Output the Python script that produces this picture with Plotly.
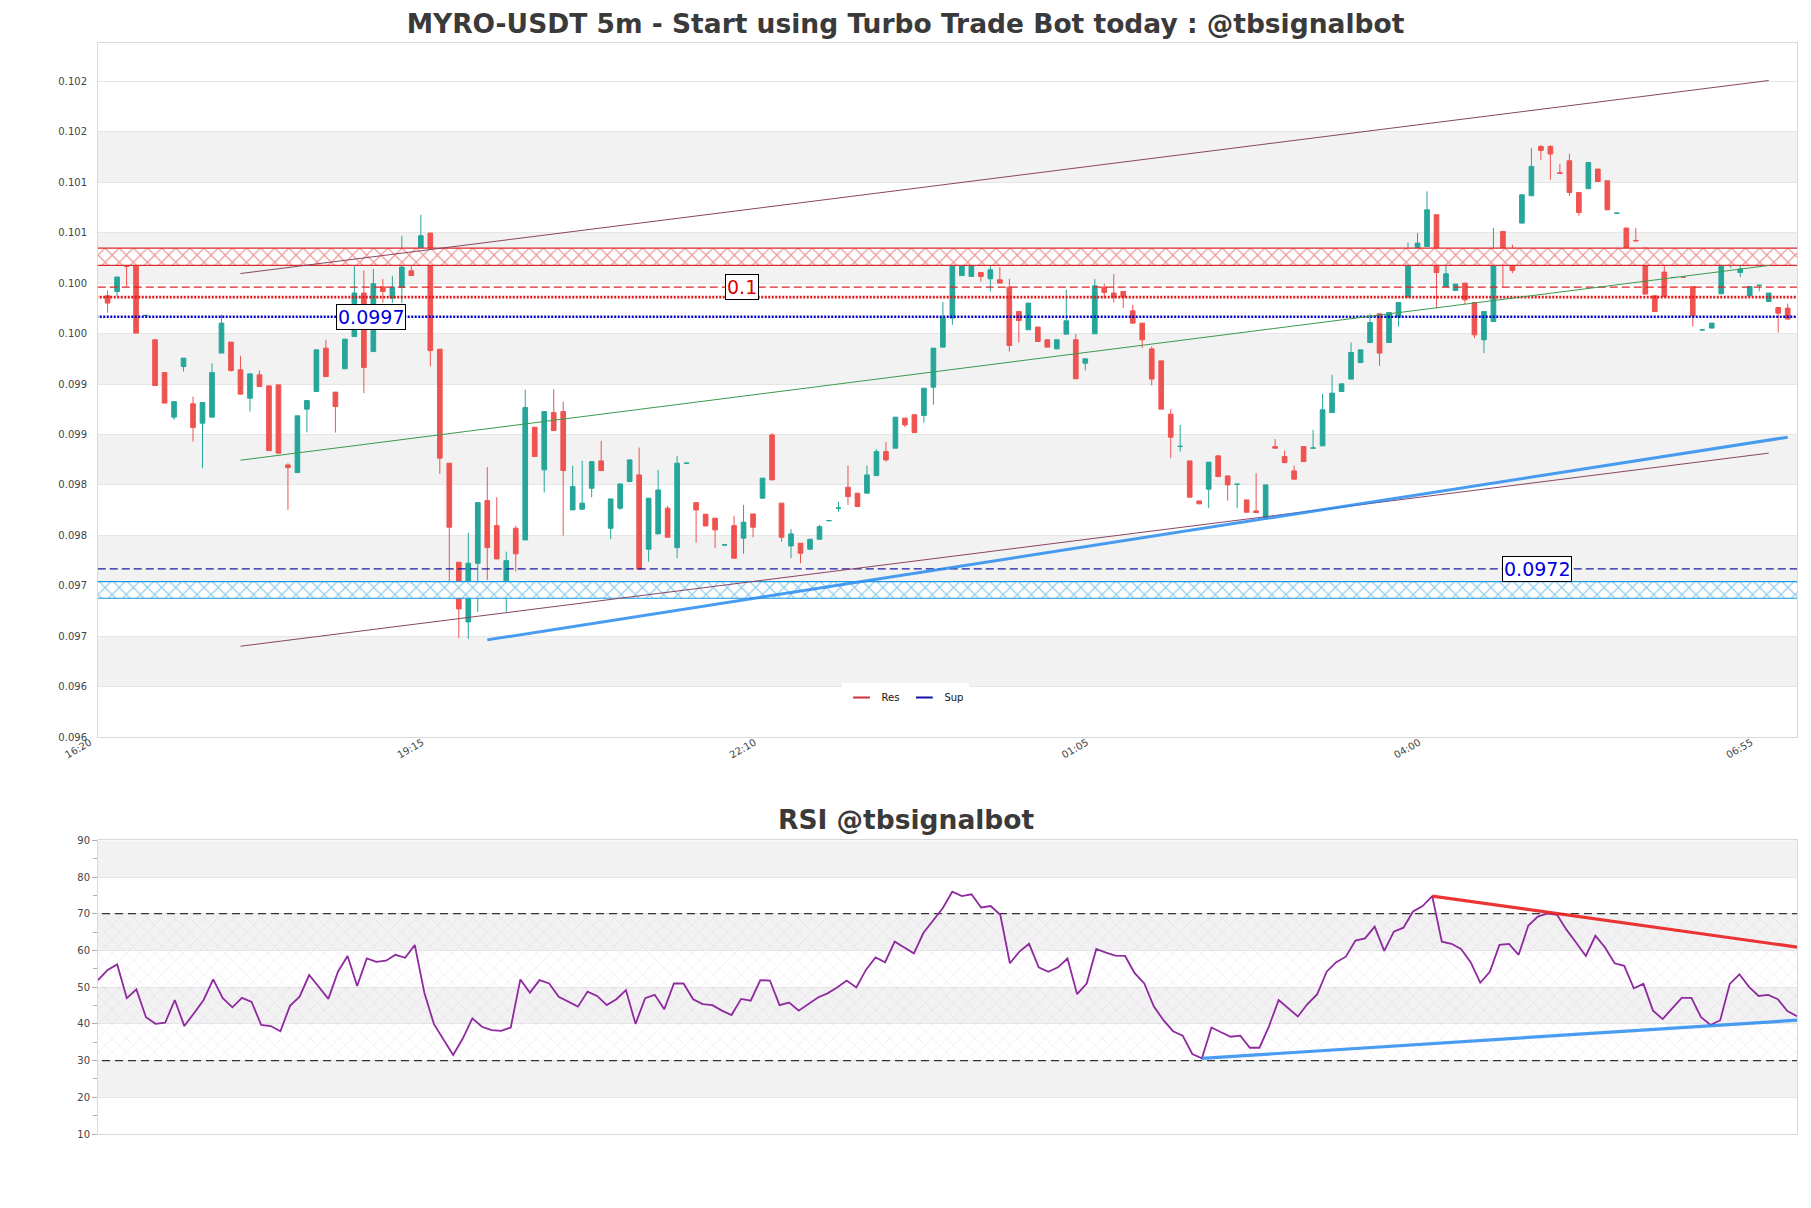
import pandas as pd
import plotly.graph_objects as go

# ---------------- data ----------------
start_time = "2024-06-10 16:25"
times = pd.date_range(start_time, periods=178, freq="5min")

opens = [0.099875,0.099918,0.100190,0.100199,0.099680,0.099439,0.099114,0.098672,0.099174,0.098804,
         0.098612,0.098672,0.099307,0.099416,0.099141,0.098860,0.099091,0.098982,0.098992,0.098198,
         0.098122,0.098751,0.098926,0.099356,0.098920,0.099151,0.099471,0.099902,0.099322,0.099964,
         0.099852,0.099957,0.100123,0.100348,0.100497,0.099346,0.098215,0.097233,0.096641,0.097223,
         0.097844,0.097596,0.097008,0.097570,0.097454,0.098572,0.098149,0.098717,0.098727,0.097752,
         0.097759,0.097967,0.098238,0.097570,0.097769,0.098033,0.098099,0.097362,0.097514,0.097769,
         0.097378,0.098214,0.097824,0.097709,0.097670,0.097404,0.097596,0.097471,0.097712,0.097868,
         0.098496,0.097819,0.097395,0.097422,0.097362,0.097461,0.097645,0.097769,0.097977,0.097918,
         0.097918,0.098092,0.098330,0.098364,0.098662,0.098695,0.098688,0.098969,0.099366,0.099654,
         0.100076,0.100067,0.100106,0.100044,0.100034,0.099961,0.099719,0.099538,0.099565,0.099439,
         0.099349,0.099495,0.099439,0.099207,0.099498,0.099961,0.099902,0.099918,0.099726,0.099604,
         0.099349,0.099230,0.098701,0.098380,0.098238,0.097841,0.097957,0.098288,0.098089,0.098005,
         0.097851,0.097742,0.097670,0.098380,0.098281,0.098139,0.098380,0.098364,0.098387,0.098717,
         0.098926,0.099049,0.099213,0.099412,0.099696,0.099412,0.099664,0.099862,0.100282,0.100364,
         0.100679,0.099967,0.099928,0.100001,0.099809,0.099439,0.099620,0.100513,0.100299,0.100596,
         0.100867,0.101356,0.101356,0.101095,0.101214,0.100900,0.100937,0.101132,0.101016,0.100694,
         0.100547,0.100424,0.100348,0.099875,0.100110,0.100056,0.100061,0.099967,0.099537,0.099555,
         0.099895,0.100215,0.100106,0.099875,0.099977,0.099818,0.099759,0.099753]
highs = [0.099928,0.100065,0.100239,0.100199,0.099682,0.099439,0.099114,0.098826,0.099257,0.098876,
         0.098817,0.099207,0.099687,0.099416,0.099280,0.099101,0.099134,0.098982,0.098992,0.098215,
         0.098685,0.098836,0.099339,0.099439,0.098920,0.099445,0.100199,0.100126,0.100140,0.100041,
         0.100073,0.100470,0.100305,0.100679,0.100497,0.099346,0.098215,0.097233,0.097524,0.097824,
         0.098176,0.097878,0.097338,0.097596,0.098943,0.098572,0.098727,0.098949,0.098826,0.098192,
         0.098238,0.098231,0.098437,0.097861,0.098010,0.098248,0.098370,0.097868,0.098149,0.097792,
         0.098288,0.098218,0.097824,0.097709,0.097670,0.097407,0.097693,0.097802,0.097712,0.098067,
         0.098513,0.097819,0.097561,0.097422,0.097461,0.097603,0.097648,0.097834,0.098192,0.097918,
         0.098192,0.098354,0.098424,0.098672,0.098662,0.098704,0.098959,0.099356,0.099813,0.100222,
         0.100292,0.100232,0.100106,0.100315,0.100160,0.100044,0.099719,0.099803,0.099565,0.099439,
         0.099439,0.099935,0.099498,0.099250,0.100041,0.099994,0.100090,0.099918,0.099786,0.099604,
         0.099372,0.099230,0.098751,0.098595,0.098238,0.097841,0.098225,0.098288,0.098089,0.098010,
         0.097851,0.098116,0.098000,0.098453,0.098340,0.098192,0.098380,0.098546,0.098903,0.099091,
         0.099002,0.099412,0.099339,0.099696,0.099696,0.099709,0.099809,0.100404,0.100497,0.100910,
         0.100679,0.100331,0.099991,0.100001,0.099809,0.099719,0.100547,0.100513,0.100381,0.100877,
         0.101340,0.101370,0.101370,0.101182,0.101284,0.100900,0.101197,0.101132,0.101016,0.100697,
         0.100547,0.100547,0.100348,0.099875,0.100183,0.100059,0.100062,0.099967,0.099540,0.099604,
         0.100166,0.100338,0.100249,0.099967,0.099980,0.099902,0.099759,0.099796]
lows = [0.099709,0.099868,0.099967,0.099505,0.099678,0.098985,0.098811,0.098645,0.099124,0.098430,
        0.098166,0.098672,0.099307,0.099124,0.098900,0.098727,0.098975,0.098340,0.098315,0.097752,
        0.098122,0.098521,0.098926,0.099074,0.098519,0.099151,0.099471,0.098910,0.099322,0.099806,
        0.099803,0.099803,0.100076,0.100348,0.099174,0.098109,0.096958,0.096482,0.096472,0.096740,
        0.097058,0.097266,0.096743,0.097140,0.097454,0.098281,0.097924,0.098539,0.097497,0.097752,
        0.097752,0.097878,0.098142,0.097461,0.097752,0.098033,0.097164,0.097239,0.097514,0.097481,
        0.097273,0.098212,0.097428,0.097593,0.097372,0.097403,0.097273,0.097316,0.097481,0.097868,
        0.098050,0.097438,0.097273,0.097223,0.097362,0.097461,0.097644,0.097735,0.097802,0.097785,
        0.097918,0.098092,0.098231,0.098364,0.098572,0.098519,0.098618,0.098794,0.099366,0.099587,
        0.100076,0.100067,0.100017,0.099918,0.100001,0.099322,0.099412,0.099538,0.099422,0.099366,
        0.099349,0.099495,0.099052,0.099134,0.099498,0.099852,0.099809,0.099753,0.099604,0.099356,
        0.098985,0.098751,0.098265,0.098330,0.097878,0.097812,0.097769,0.098082,0.097844,0.097769,
        0.097729,0.097725,0.097670,0.098364,0.098221,0.098057,0.098231,0.098364,0.098387,0.098717,
        0.098926,0.099049,0.099213,0.099412,0.099181,0.099412,0.099570,0.099862,0.100282,0.100364,
        0.099753,0.099967,0.099928,0.099793,0.099455,0.099307,0.099620,0.099961,0.100100,0.100596,
        0.100867,0.101224,0.101026,0.101089,0.100867,0.100669,0.100937,0.101009,0.100728,0.100692,
        0.100338,0.100420,0.099892,0.099719,0.099868,0.100054,0.100058,0.099570,0.099535,0.099555,
        0.099895,0.100150,0.100061,0.099875,0.099918,0.099818,0.099511,0.099644]
closes = [0.099803,0.100061,0.100166,0.099505,0.099681,0.098985,0.098811,0.098826,0.099257,0.098570,
          0.098817,0.099114,0.099604,0.099134,0.098900,0.099101,0.098975,0.098340,0.098315,0.098172,
          0.098685,0.098836,0.099339,0.099074,0.098777,0.099445,0.099902,0.099164,0.099994,0.099918,
          0.099961,0.100160,0.100076,0.100470,0.099332,0.098265,0.097580,0.096770,0.097223,0.097824,
          0.097378,0.097266,0.097249,0.097316,0.098767,0.098281,0.098727,0.098539,0.098142,0.097983,
          0.097819,0.098231,0.098142,0.097861,0.098010,0.098248,0.097164,0.097868,0.097950,0.097481,
          0.098215,0.098216,0.097752,0.097593,0.097554,0.097405,0.097273,0.097630,0.097580,0.098067,
          0.098050,0.097481,0.097514,0.097322,0.097461,0.097586,0.097646,0.097772,0.097884,0.097785,
          0.098099,0.098330,0.098248,0.098672,0.098595,0.098519,0.098959,0.099356,0.099654,0.100222,
          0.100173,0.100232,0.100067,0.100133,0.100001,0.099382,0.099630,0.099803,0.099422,0.099366,
          0.099439,0.099627,0.099052,0.099250,0.099974,0.099908,0.099862,0.099862,0.099604,0.099439,
          0.099049,0.098751,0.098473,0.098382,0.097878,0.097812,0.098225,0.098082,0.098000,0.098007,
          0.097729,0.097725,0.098000,0.098364,0.098221,0.098057,0.098231,0.098366,0.098744,0.098910,
          0.099002,0.099313,0.099339,0.099610,0.099307,0.099709,0.099809,0.100225,0.100398,0.100728,
          0.100106,0.100093,0.099991,0.099835,0.099488,0.099719,0.100282,0.100292,0.100126,0.100877,
          0.101158,0.101317,0.101281,0.101089,0.100900,0.100701,0.101197,0.101009,0.100728,0.100695,
          0.100338,0.100420,0.099892,0.099719,0.099868,0.100057,0.100060,0.099677,0.099538,0.099604,
          0.100166,0.100338,0.100140,0.099967,0.099980,0.099902,0.099703,0.099644]

rsi_values = [51.9,54.7,56.2,47.0,49.4,41.8,40.0,40.3,46.5,39.4,
              42.9,46.5,52.1,47.0,44.5,47.1,46.0,39.7,39.4,38.0,
              44.9,47.4,53.3,50.1,46.8,54.2,58.5,50.3,57.8,56.9,
              57.2,58.8,58.0,61.5,48.5,39.9,35.8,31.5,36.0,41.5,
              39.2,38.3,38.1,39.0,52.1,48.5,51.9,51.0,47.4,46.0,
              44.7,48.8,47.6,45.1,46.7,49.2,40.0,47.0,47.9,44.0,
              51.0,51.0,46.7,45.4,45.1,43.6,42.4,46.8,46.3,51.9,
              51.8,45.1,45.8,43.6,45.4,47.2,48.3,49.9,51.8,49.9,
              54.7,58.1,56.8,62.4,60.8,59.2,64.8,68.1,71.5,76.0,
              74.8,75.3,71.7,72.1,69.7,56.5,59.7,61.8,55.4,54.2,
              55.4,57.8,48.1,51.0,60.4,59.4,58.6,58.5,53.8,51.0,
              44.7,41.0,38.0,36.8,31.8,30.6,39.0,37.7,36.5,36.8,
              33.5,33.5,39.4,46.5,44.2,42.0,45.4,48.0,54.2,56.8,
              58.3,62.7,63.3,66.5,59.9,65.1,66.2,70.6,72.1,74.8,
              62.4,61.8,60.4,56.8,51.2,54.2,61.5,61.8,58.8,66.7,
              69.2,70.1,69.7,65.6,62.1,58.5,64.0,60.8,56.5,55.8,
              49.7,50.9,43.6,41.3,44.2,47.1,47.1,41.8,39.7,41.0,
              50.9,53.5,50.1,47.6,47.9,46.7,43.5,42.1]

# tick labels (tick times are every 35 bars starting one bar before the first candle)
x_tick_times = ["2024-06-10 16:20", "2024-06-10 19:15", "2024-06-10 22:10",
                "2024-06-11 01:05", "2024-06-11 04:00", "2024-06-11 06:55"]
x_tick_text = ["16:20", "19:15", "22:10", "01:05", "04:00", "06:55"]
y_tick_vals = [0.0955, 0.0960, 0.0965, 0.0970, 0.0975, 0.0980, 0.0985,
               0.0990, 0.0995, 0.1000, 0.1005, 0.1010, 0.1015, 0.1020]
y_tick_text = ["0.096", "0.096", "0.097", "0.097", "0.098", "0.098", "0.099",
               "0.099", "0.100", "0.100", "0.101", "0.101", "0.102", "0.102"]
rsi_tick_vals = [10, 20, 30, 40, 50, 60, 70, 80, 90]

# levels
res_zone = [0.100176, 0.100348]
sup_zone = [0.096876, 0.097041]
res_dash_level = 0.099961
res_dot_level = 0.099862
sup_dot_level = 0.099667
sup_dash_level = 0.097167
rsi_levels = [30, 70]

# trend lines (candle index, price)
upper_chan_idx = [14, 175]; upper_chan_val = [0.100096, 0.102010]
lower_chan_idx = [14, 175]; lower_chan_val = [0.096400, 0.098315]
mid_chan_idx = [14, 175];   mid_chan_val = [0.098245, 0.100176]
sup_trend_idx = [40, 177];  sup_trend_val = [0.096463, 0.098473]

rsi_res_idx = [139, 177]; rsi_res_val = [74.8, 60.9]
rsi_sup_idx = [115, 177]; rsi_sup_val = [30.6, 41.0]

# level labels: (candle index position, level, text, color)
level_labels = [(27.7, sup_dot_level, "0.0997", "#0000e0"),
                (66.8, res_dash_level, "0.1", "#e00000"),
                (150.6, sup_dash_level, "0.0972", "#0000e0")]

# ---------------- figure ----------------
FONT = "DejaVu Sans"
OFF = 8                      # default page (body) margin of the html file
W, H = 1795, 1190            # figure size
L, R, T, B = 90, 6, 35, 64
PL = OFF + L                 # plot left in page px
PW = W - L - R
plot_h = H - T - B
PB = OFF + H - B             # plot bottom in page px


def px_x(px):
    return (px - PL) / PW


def px_y(py):
    return (PB - py) / plot_h


step = pd.Timedelta(minutes=5)
t0 = times[0]
x_range = [t0 - 1.01 * step, t0 + 177.98 * step]
x_far = [t0 - 20 * step, t0 + 200 * step]

fig = go.Figure()

# alternating bands (below gridlines)
for k in range(1, len(y_tick_vals) - 1, 2):
    fig.add_shape(type="rect", xref="x domain", yref="y", x0=0, x1=1,
                  y0=y_tick_vals[k], y1=y_tick_vals[k + 1],
                  fillcolor="#f2f2f2", line_width=0, layer="below")
for lo in [20, 40, 60, 80]:
    fig.add_shape(type="rect", xref="x2 domain", yref="y2", x0=0, x1=1,
                  y0=lo, y1=lo + 10, fillcolor="#f2f2f2", line_width=0, layer="below")


# hatched zones
def zone(lo, hi, col):
    fig.add_trace(go.Scatter(
        x=[x_far[0], x_far[1], x_far[1], x_far[0], x_far[0]],
        y=[lo, lo, hi, hi, lo], mode="lines", fill="toself",
        line=dict(color=col, width=1.2),
        fillcolor="rgba(0,0,0,0)",
        fillpattern=dict(shape="x", fgcolor=col, bgcolor="white", size=10, solidity=0.22),
        showlegend=False, hoverinfo="skip", xaxis="x", yaxis="y"))


zone(res_zone[0], res_zone[1], "#dd2a2a")
zone(sup_zone[0], sup_zone[1], "#1d97dc")


# horizontal level lines
def hline(lvl, col, dash, w):
    fig.add_trace(go.Scatter(x=x_far, y=[lvl, lvl], mode="lines",
                             line=dict(color=col, width=w, dash=dash),
                             showlegend=False, hoverinfo="skip", xaxis="x", yaxis="y"))


hline(res_dash_level, "#e02424", "8px,4px", 1.3)
hline(res_dot_level, "#e01818", "2px,1.5px", 2.6)
hline(sup_dot_level, "#0000cc", "2px,1.5px", 2.6)
hline(sup_dash_level, "#1a1aa0", "8px,4px", 1.3)

# candles
fig.add_trace(go.Candlestick(
    x=times, open=opens, high=highs, low=lows, close=closes,
    increasing=dict(line=dict(color="#26a69a", width=1), fillcolor="#26a69a"),
    decreasing=dict(line=dict(color="#ef5350", width=1), fillcolor="#ef5350"),
    whiskerwidth=0, showlegend=False, xaxis="x", yaxis="y", hoverinfo="skip"))


# trend lines
def tline(idx, val, col, w):
    fig.add_trace(go.Scatter(x=[times[i] for i in idx], y=val, mode="lines",
                             line=dict(color=col, width=w), showlegend=False,
                             hoverinfo="skip", xaxis="x", yaxis="y"))


tline(upper_chan_idx, upper_chan_val, "#8a4561", 1)
tline(lower_chan_idx, lower_chan_val, "#8a4561", 1)
tline(mid_chan_idx, mid_chan_val, "#3a9a4e", 1)
tline(sup_trend_idx, sup_trend_val, "rgba(40,140,240,0.85)", 3)

# legend entries
fig.add_trace(go.Scatter(x=[None], y=[None], mode="markers", name="Res",
                         marker=dict(symbol="line-ew-open", size=12, color="#d32f2f",
                                     line=dict(color="#d32f2f", width=2)),
                         xaxis="x", yaxis="y"))
fig.add_trace(go.Scatter(x=[None], y=[None], mode="markers", name="Sup",
                         marker=dict(symbol="line-ew-open", size=12, color="#1515a8",
                                     line=dict(color="#1515a8", width=2)),
                         xaxis="x", yaxis="y"))

# RSI panel
rsi_idx = list(range(len(rsi_values)))
fig.add_trace(go.Scatter(
    x=[-5, 182, 182, -5, -5], y=[rsi_levels[0], rsi_levels[0], rsi_levels[1], rsi_levels[1], rsi_levels[0]],
    mode="none", fill="toself", fillcolor="rgba(0,0,0,0)",
    fillpattern=dict(shape="x", fgcolor="rgba(185,135,215,0.55)", size=10, solidity=0.1),
    showlegend=False, hoverinfo="skip", xaxis="x2", yaxis="y2"))
for lvl in rsi_levels:
    fig.add_trace(go.Scatter(x=[-5, 182], y=[lvl, lvl], mode="lines",
                             line=dict(color="#333333", width=1.2, dash="8px,5px"),
                             showlegend=False, hoverinfo="skip", xaxis="x2", yaxis="y2"))
fig.add_trace(go.Scatter(x=rsi_idx, y=rsi_values, mode="lines",
                         line=dict(color="#8e2a9e", width=1.8), showlegend=False,
                         hoverinfo="skip", xaxis="x2", yaxis="y2"))
fig.add_trace(go.Scatter(x=rsi_res_idx, y=rsi_res_val, mode="lines",
                         line=dict(color="rgba(235,30,30,0.9)", width=3.2), showlegend=False,
                         hoverinfo="skip", xaxis="x2", yaxis="y2"))
fig.add_trace(go.Scatter(x=rsi_sup_idx, y=rsi_sup_val, mode="lines",
                         line=dict(color="rgba(40,140,240,0.85)", width=3.2), showlegend=False,
                         hoverinfo="skip", xaxis="x2", yaxis="y2"))

# level label annotations
for pos, lvl, txt, col in level_labels:
    fig.add_annotation(x=t0 + pos * step, y=lvl, xref="x", yref="y", text=txt,
                       showarrow=False, font=dict(family=FONT, size=19, color=col),
                       bgcolor="white", bordercolor="black", borderwidth=1, borderpad=1)

main_dom = [px_y(737), 1.0]
rsi_dom = [0.0, px_y(840.3)]

axis_line = "#d9d9d9"
tick_font = dict(family=FONT, size=10, color="#444444")

fig.add_annotation(text="<b>RSI @tbsignalbot</b>", xref="paper", yref="paper",
                   x=px_x(906), y=px_y(819.5),
                   xanchor="center", yanchor="middle", showarrow=False,
                   font=dict(family=FONT, size=26.5, color="#3a3a3a"))

fig.update_layout(
    width=W, height=H,
    margin=dict(l=L, r=R, t=T, b=B),
    paper_bgcolor="white", plot_bgcolor="white",
    font=dict(family=FONT, color="#333333"),
    title=dict(text="<b>MYRO-USDT 5m - Start using Turbo Trade Bot today : @tbsignalbot</b>",
               x=0.5, xref="container", xanchor="center",
               y=1 - (24 - OFF) / H, yref="container", yanchor="middle",
               font=dict(family=FONT, size=26.5, color="#3a3a3a")),
    showlegend=True,
    legend=dict(orientation="h", x=px_x(905), xanchor="center",
                y=px_y(697.5), yanchor="middle",
                bgcolor="white", font=dict(family=FONT, size=10, color="#111111"),
                itemwidth=30),
    xaxis=dict(domain=[0, 1], anchor="y", type="date", range=x_range,
               rangeslider=dict(visible=False), showgrid=False, zeroline=False,
               tickvals=x_tick_times, ticktext=x_tick_text,
               tickangle=-30, tickfont=tick_font, ticks="",
               ticklabelshift=-8, ticklabelstandoff=-5,
               showline=True, mirror=True, linecolor=axis_line, linewidth=1),
    yaxis=dict(domain=main_dom, anchor="x", range=[0.0955, 0.102382],
               tickvals=y_tick_vals, ticktext=y_tick_text, tickfont=tick_font,
               gridcolor="#e6e6e6", zeroline=False, ticks="", ticklabelstandoff=8,
               showline=True, mirror=True, linecolor=axis_line, linewidth=1),
    xaxis2=dict(domain=[0, 1], anchor="y2", range=[0, 177], showgrid=False,
                zeroline=False, showticklabels=False, ticks="",
                showline=True, mirror=True, linecolor=axis_line, linewidth=1),
    yaxis2=dict(domain=rsi_dom, anchor="x2", range=[10, 90], tickvals=rsi_tick_vals,
                tickfont=tick_font, gridcolor="#e6e6e6", zeroline=False,
                ticks="outside", ticklen=5, tickcolor="#b0b0b0",
                minor=dict(dtick=5, ticks="outside", ticklen=4, tickcolor="#b0b0b0", showgrid=False),
                showline=True, mirror=True, linecolor=axis_line, linewidth=1),
)

fig.write_html("out.html")
